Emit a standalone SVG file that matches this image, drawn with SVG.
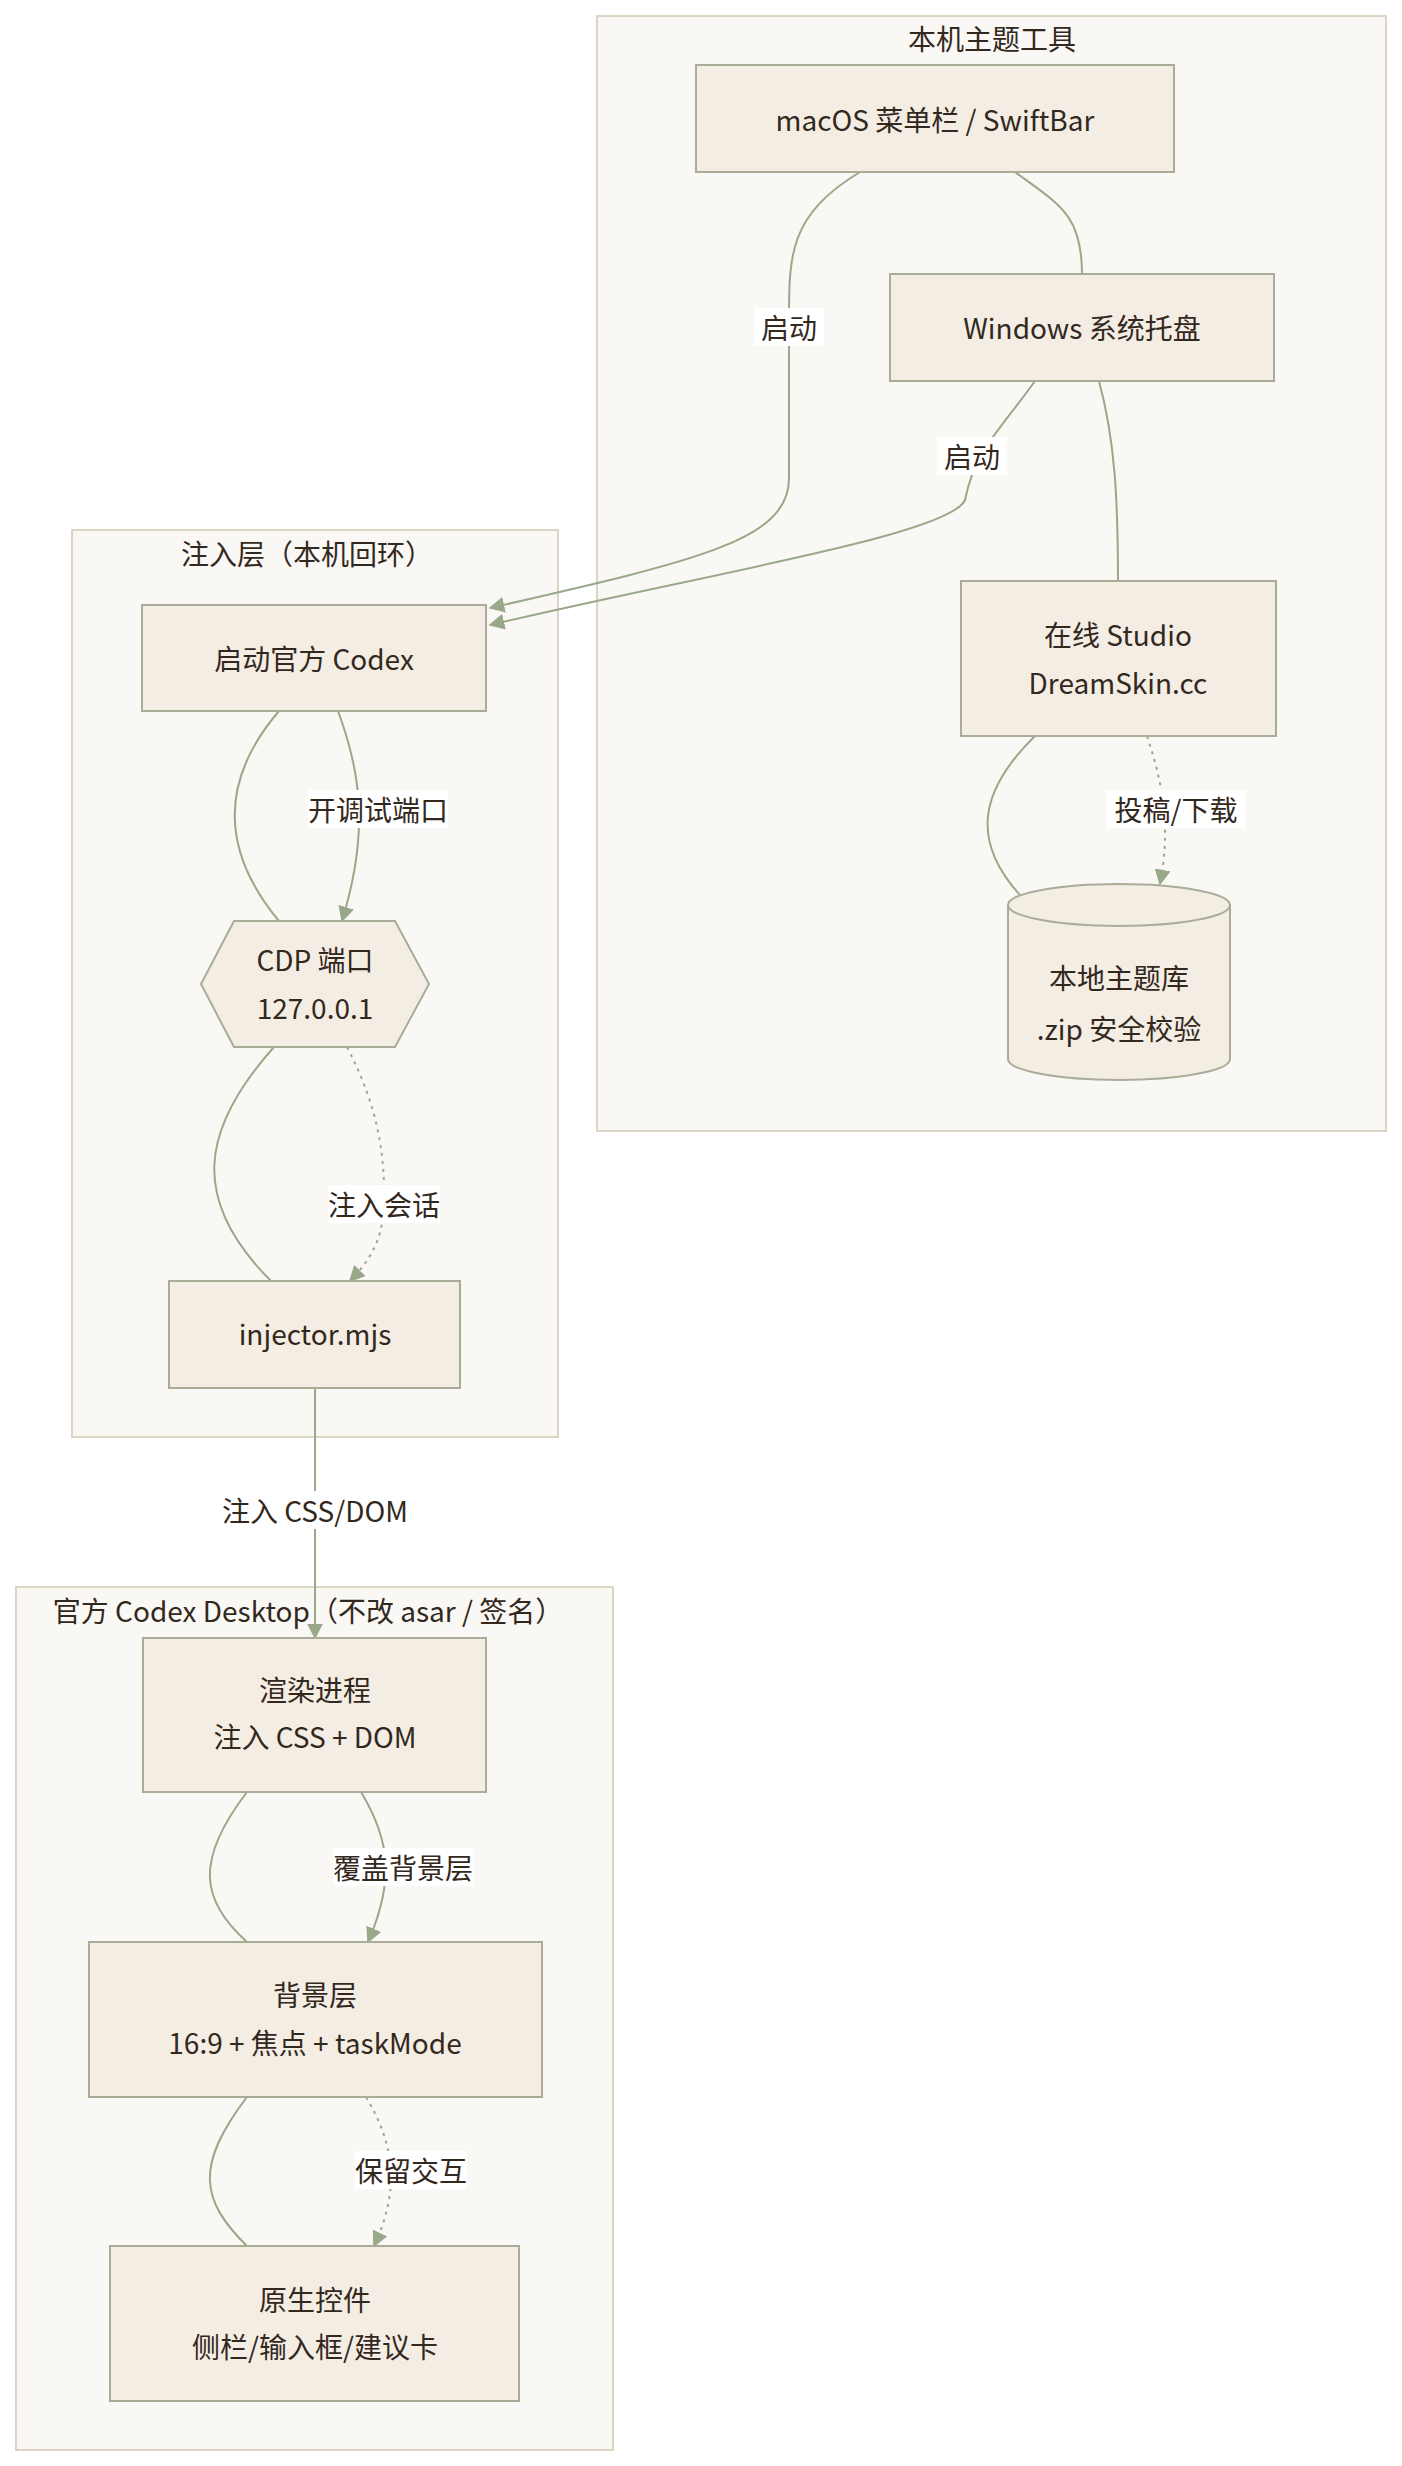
<svg xmlns="http://www.w3.org/2000/svg" width="1402" height="2466" viewBox="0 0 1402 2466">
<defs>
<style>
text{font-family:"Noto Sans CJK SC","Noto Sans",sans-serif;font-size:28px;fill:#33281d;text-anchor:middle;dominant-baseline:central}
.cl{fill:#faf8f4;stroke:#ddd5c4;stroke-width:2}
.n{fill:#f4ede4;stroke:#a9ad98;stroke-width:2}
.e{fill:none;stroke:#9aa88a;stroke-width:2}
.d{stroke-dasharray:3 5}
.lb{fill:#fff}
</style>
<marker id="a" viewBox="0 0 10 10" refX="9" refY="5" markerWidth="8" markerHeight="8" orient="auto"><path d="M0,0L10,5L0,10z" fill="#9aa88a"/></marker>
</defs>
<g id="clusters">
<rect class="cl" x="597" y="16" width="789" height="1115"/>
<text x="992" y="38">本机主题工具</text>
<rect class="cl" x="72" y="530" width="486" height="907"/>
<text x="307" y="553">注入层（本机回环）</text>
<rect class="cl" x="16" y="1587" width="597" height="863"/>
<text x="308" y="1610">官方 Codex Desktop（不改 asar / 签名）</text>
</g>
<g id="edges">
<path class="e" d="M860,172 C789,215 789,255 789,320 L789,478 C789,540 700,560 490,608" marker-end="url(#a)"/>
<path class="e" d="M1035,381 C1000,430 975,450 965,500 C950,535 700,575 490,625" marker-end="url(#a)"/>
<path class="e" d="M1015,172 C1060,205 1082,215 1082,274"/>
<path class="e" d="M1099,381 C1115,440 1118,500 1118,581"/>
<path class="e" d="M1035,736 C980,790 970,840 1020,895"/>
<path class="e d" d="M1147,736 C1165,790 1170,830 1160,884" marker-end="url(#a)"/>
<path class="e" d="M279,711 C220,780 220,850 279,921"/>
<path class="e" d="M338,711 C360,770 370,830 342,921" marker-end="url(#a)"/>
<path class="e" d="M274,1047 C200,1130 190,1200 271,1281"/>
<path class="e d" d="M347,1047 C380,1110 385,1160 384,1204 C383,1240 370,1260 350,1281" marker-end="url(#a)"/>
<path class="e" d="M315,1388 L315,1638" marker-end="url(#a)"/>
<path class="e" d="M247,1792 C195,1860 200,1900 247,1942"/>
<path class="e" d="M361,1792 C390,1840 395,1880 368,1942" marker-end="url(#a)"/>
<path class="e" d="M247,2097 C195,2165 200,2200 247,2246"/>
<path class="e d" d="M366,2097 C395,2145 400,2190 374,2246" marker-end="url(#a)"/>
<rect class="lb" x="754" y="308" width="70" height="38"/><text x="789" y="327">启动</text>
<rect class="lb" x="937" y="437" width="70" height="38"/><text x="972" y="456">启动</text>
<rect class="lb" x="1106" y="790" width="140" height="38"/><text x="1176" y="809">投稿/下载</text>
<rect class="lb" x="308" y="790" width="140" height="38"/><text x="378" y="809">开调试端口</text>
<rect class="lb" x="328" y="1185" width="112" height="38"/><text x="384" y="1204">注入会话</text>
<rect class="lb" x="210" y="1491" width="210" height="38"/><text x="315" y="1510">注入 CSS/DOM</text>
<rect class="lb" x="333" y="1848" width="140" height="38"/><text x="403" y="1867">覆盖背景层</text>
<rect class="lb" x="355" y="2151" width="112" height="38"/><text x="411" y="2170">保留交互</text>
</g>
<g id="macos"><rect class="n" x="696" y="65" width="478" height="107"/><text x="935" y="119">macOS 菜单栏 / SwiftBar</text></g>
<g id="windows"><rect class="n" x="890" y="274" width="384" height="107"/><text x="1082" y="327">Windows 系统托盘</text></g>
<g id="studio"><rect class="n" x="961" y="581" width="315" height="155"/><text x="1118" y="634">在线 Studio</text><text x="1118" y="682">DreamSkin.cc</text></g>
<g id="lib"><path class="n" d="M1008,905 A111,21 0 0 1 1230,905 L1230,1059 A111,21 0 0 1 1008,1059 Z"/><path class="n" d="M1008,905 A111,21 0 0 0 1230,905" fill="none"/><text x="1119" y="977">本地主题库</text><text x="1119" y="1028">.zip 安全校验</text></g>
<g id="launch"><rect class="n" x="142" y="605" width="344" height="106"/><text x="314" y="658">启动官方 Codex</text></g>
<g id="cdp"><polygon class="n" points="201,984 234,921 395,921 429,984 395,1047 234,1047"/><text x="315" y="959">CDP 端口</text><text x="315" y="1007">127.0.0.1</text></g>
<g id="injector"><rect class="n" x="169" y="1281" width="291" height="107"/><text x="315" y="1333">injector.mjs</text></g>
<g id="render"><rect class="n" x="143" y="1638" width="343" height="154"/><text x="315" y="1689">渲染进程</text><text x="315" y="1736">注入 CSS + DOM</text></g>
<g id="bg"><rect class="n" x="89" y="1942" width="453" height="155"/><text x="315" y="1994">背景层</text><text x="315" y="2042">16:9 + 焦点 + taskMode</text></g>
<g id="native"><rect class="n" x="110" y="2246" width="409" height="155"/><text x="315" y="2299">原生控件</text><text x="315" y="2346">侧栏/输入框/建议卡</text></g>
</svg>
